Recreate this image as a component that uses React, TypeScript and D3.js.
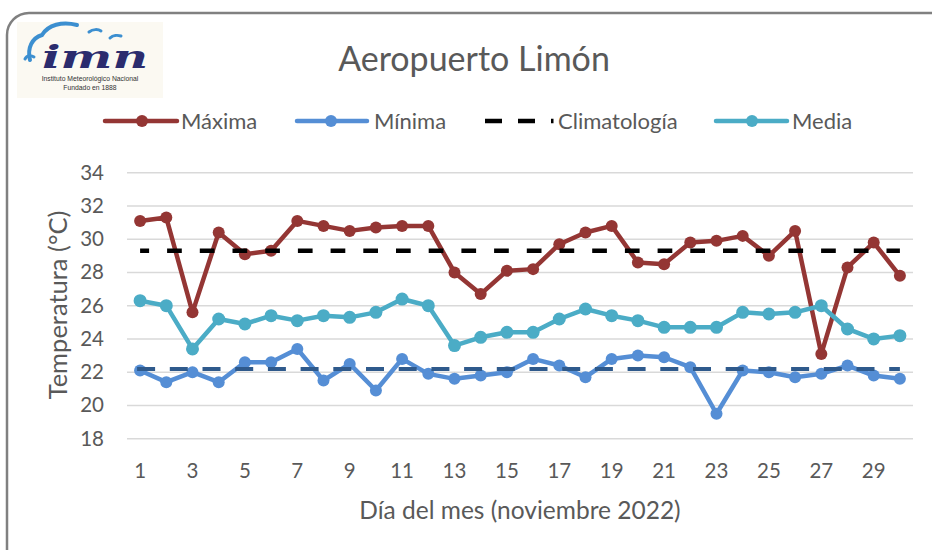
import React from "react";
import * as d3 from "d3";

const days = [1, 2, 3, 4, 5, 6, 7, 8, 9, 10, 11, 12, 13, 14, 15, 16, 17, 18, 19, 20, 21, 22, 23, 24, 25, 26, 27, 28, 29, 30];
const maxima = [31.1, 31.3, 25.6, 30.4, 29.1, 29.3, 31.1, 30.8, 30.5, 30.7, 30.8, 30.8, 28.0, 26.7, 28.1, 28.2, 29.7, 30.4, 30.8, 28.6, 28.5, 29.8, 29.9, 30.2, 29.0, 30.5, 23.1, 28.3, 29.8, 27.8];
const minima = [22.1, 21.4, 22.0, 21.4, 22.6, 22.6, 23.4, 21.5, 22.5, 20.9, 22.8, 21.9, 21.6, 21.8, 22.0, 22.8, 22.4, 21.7, 22.8, 23.0, 22.9, 22.3, 19.5, 22.1, 22.0, 21.7, 21.9, 22.4, 21.8, 21.6];
const media = [26.3, 26.0, 23.4, 25.2, 24.9, 25.4, 25.1, 25.4, 25.3, 25.6, 26.4, 26.0, 23.6, 24.1, 24.4, 24.4, 25.2, 25.8, 25.4, 25.1, 24.7, 24.7, 24.7, 25.6, 25.5, 25.6, 26.0, 24.6, 24.0, 24.2];
const climaMax = 29.3;
const climaMin = 22.2;
const yTicks = [18, 20, 22, 24, 26, 28, 30, 32, 34];
const xTickDays = [1, 3, 5, 7, 9, 11, 13, 15, 17, 19, 21, 23, 25, 27, 29];

const FONT = "Lato, 'Open Sans', sans-serif";
const TXT = "#595959";
const C_MAX = "#943634";
const C_MIN = "#558ED5";
const C_MED = "#4BACC6";
const C_CMIN = "#2F5A8C";

export default function App() {
  const x = d3.scaleBand<number>().domain(days).range([127, 913]);
  const cx = (d: number) => (x(d) as number) + x.bandwidth() / 2;
  const y = d3.scaleLinear().domain([18, 34]).range([438.7, 172.7]);
  const line = d3
    .line<[number, number]>()
    .x((d) => cx(d[0]))
    .y((d) => y(d[1]));

  const series = [
    { name: "Máxima", vals: maxima, color: C_MAX },
    { name: "Mínima", vals: minima, color: C_MIN },
  ];

  const x0 = cx(days[0]);
  const x1 = cx(days[days.length - 1]);

  return (
    <svg
      width={932}
      height={550}
      style={{ position: "absolute", left: 0, top: 0, display: "block", background: "#fff" }}
      fontFamily={FONT}
    >
      <rect x={7} y={13} width={950} height={560} rx={22} ry={22} fill="#fff" stroke="#808080" strokeWidth={2.5} />

      {/* logo */}
      <g>
        <rect x={17} y={22} width={146} height={76} fill="#FBF9F2" />
        <path d="M30,60 C27,48 32,38 42,35 C48,25 62,21 77,25" fill="none" stroke="#3C8FD0" strokeWidth={4} strokeLinecap="round" />
        <path d="M25,59 C27,55 31,55 34,57" fill="none" stroke="#3C8FD0" strokeWidth={3} strokeLinecap="round" />
        <path d="M89,32 C93,29 98,29 101,31" fill="none" stroke="#3C8FD0" strokeWidth={3} strokeLinecap="round" />
        <path d="M110,38 C113,35 118,35 121,36" fill="none" stroke="#3C8FD0" strokeWidth={3} strokeLinecap="round" />
        <text
          x={42}
          y={68}
          fontFamily="'DejaVu Serif', serif"
          fontStyle="italic"
          fontWeight="bold"
          fontSize={32}
          fill="#2B2C6E"
          textLength={106}
          lengthAdjust="spacingAndGlyphs"
        >
          imn
        </text>
        <text x={90} y={81} textAnchor="middle" fontFamily="'Liberation Sans', Arial, sans-serif" fontSize={6.8} fill="#333">
          Instituto Meteorológico Nacional
        </text>
        <text x={90} y={89.5} textAnchor="middle" fontFamily="'Liberation Sans', Arial, sans-serif" fontSize={6.8} fill="#333">
          Fundado en 1888
        </text>
      </g>

      <text x={474} y={71} textAnchor="middle" fontSize={34} fill={TXT}>
        Aeropuerto Limón
      </text>

      {/* legend */}
      <g fontSize={22} fill={TXT}>
        <line x1={105} x2={177} y1={121} y2={121} stroke={C_MAX} strokeWidth={4.5} strokeLinecap="round" />
        <circle cx={142} cy={121} r={6} fill={C_MAX} />
        <text x={181} y={129}>Máxima</text>
        <line x1={297} x2={367} y1={121} y2={121} stroke={C_MIN} strokeWidth={4.5} strokeLinecap="round" />
        <circle cx={331} cy={121} r={6} fill={C_MIN} />
        <text x={374} y={129}>Mínima</text>
        <line x1={485} x2={553.5} y1={121} y2={121} stroke="#000" strokeWidth={4.5} strokeDasharray="17 16" />
        <text x={558} y={129}>Climatología</text>
        <line x1={716} x2={787} y1={121} y2={121} stroke={C_MED} strokeWidth={4.5} strokeLinecap="round" />
        <circle cx={752} cy={121} r={6} fill={C_MED} />
        <text x={792} y={129}>Media</text>
      </g>

      {/* grid and y ticks */}
      {yTicks.map((t) => (
        <g key={t}>
          <line x1={127} x2={913} y1={y(t)} y2={y(t)} stroke="#D9D9D9" strokeWidth={1.5} />
          <text x={104} y={y(t) + 7} textAnchor="end" fontSize={20.5} fill={TXT}>
            {t}
          </text>
        </g>
      ))}

      {/* x ticks */}
      {xTickDays.map((d) => (
        <text key={d} x={cx(d)} y={478} textAnchor="middle" fontSize={20.5} fill={TXT}>
          {d}
        </text>
      ))}

      <text x={520} y={519} textAnchor="middle" fontSize={24.5} fill={TXT}>
        Día del mes (noviembre 2022)
      </text>
      <text transform={`translate(67,305) rotate(-90)`} textAnchor="middle" fontSize={25.5} fill={TXT}>
        Temperatura (°C)
      </text>

      {/* series */}
      {series.map((s) => (
        <g key={s.name}>
          <path
            d={line(days.map((d, i) => [d, s.vals[i]] as [number, number])) || ""}
            fill="none"
            stroke={s.color}
            strokeWidth={4.5}
            strokeLinejoin="round"
          />
          {days.map((d, i) => (
            <circle key={d} cx={cx(d)} cy={y(s.vals[i])} r={6} fill={s.color} />
          ))}
        </g>
      ))}

      <line x1={x0} x2={x1} y1={y(climaMax)} y2={y(climaMax)} stroke="#000" strokeWidth={4.5} strokeDasharray="14.7 18" strokeDashoffset={5.7} />
      <line x1={x0 - 3} x2={x1} y1={y(climaMin)} y2={y(climaMin)} stroke={C_CMIN} strokeWidth={4} strokeDasharray="18 14.7" />

      <g>
        <path
          d={line(days.map((d, i) => [d, media[i]] as [number, number])) || ""}
          fill="none"
          stroke={C_MED}
          strokeWidth={4.5}
          strokeLinejoin="round"
        />
        {days.map((d, i) => (
          <circle key={d} cx={cx(d)} cy={y(media[i])} r={6.5} fill={C_MED} />
        ))}
      </g>
    </svg>
  );
}
